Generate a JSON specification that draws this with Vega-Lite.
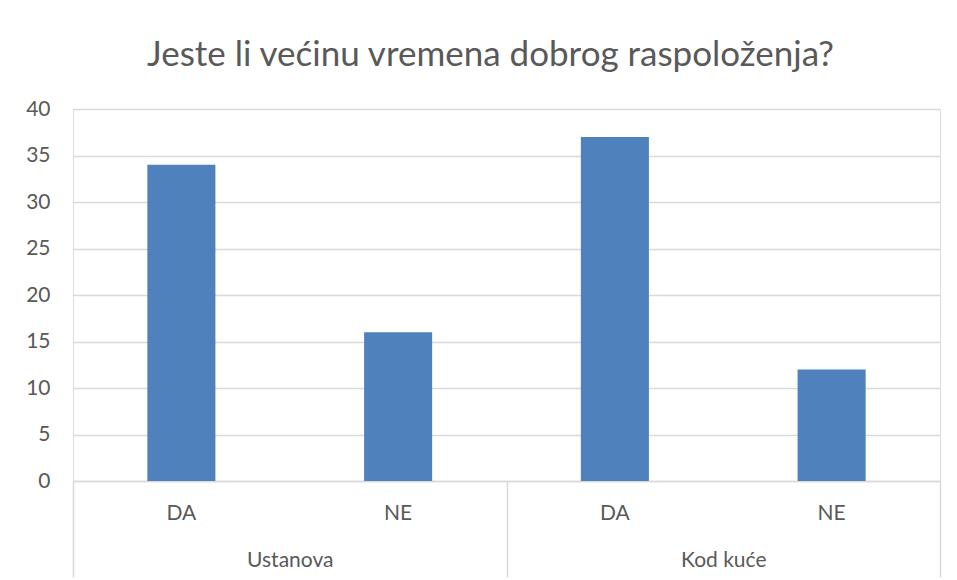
{
  "$schema": "https://vega.github.io/schema/vega-lite/v6.json",
  "width": 867,
  "height": 372,
  "autosize": {"type": "none"},
  "padding": {"left": 73, "top": 109, "right": 17, "bottom": 99},
  "background": "white",
  "title": {
    "text": "Jeste li većinu vremena dobrog raspoloženja?",
    "font": "Lato",
    "fontSize": 35,
    "fontWeight": "normal",
    "color": "#595959",
    "anchor": "middle",
    "frame": "group",
    "baseline": "alphabetic",
    "offset": -3,
    "dx": -16
  },
  "data": {
    "values": [
      {"grp": "Ustanova", "ans": "DA", "key": "Ustanova|DA", "v": 34},
      {"grp": "Ustanova", "ans": "NE", "key": "Ustanova|NE", "v": 16},
      {"grp": "Kod kuće", "ans": "DA", "key": "Kod kuće|DA", "v": 37},
      {"grp": "Kod kuće", "ans": "NE", "key": "Kod kuće|NE", "v": 12}
    ]
  },
  "layer": [
    {
      "mark": {"type": "bar", "color": "#4f81bd", "width": {"band": 0.314}},
      "encoding": {
        "x": {
          "field": "key",
          "type": "nominal",
          "sort": null,
          "scale": {"paddingInner": 0, "paddingOuter": 0},
          "axis": {
            "title": null,
            "orient": "bottom",
            "labelAngle": 0,
            "labelExpr": "split(datum.label, '|')[1]",
            "ticks": false,
            "domain": true,
            "domainColor": "#d9d9d9",
            "domainWidth": 1.5,
            "labelPadding": 21,
            "labelFont": "Lato",
            "labelFontSize": 21,
            "labelColor": "#595959"
          }
        },
        "y": {
          "field": "v",
          "type": "quantitative",
          "scale": {"domain": [0, 40]},
          "axis": {
            "title": null,
            "values": [0, 5, 10, 15, 20, 25, 30, 35, 40],
            "grid": true,
            "gridColor": "#d9d9d9",
            "gridWidth": 1.5,
            "domain": false,
            "ticks": false,
            "labelPadding": 23,
            "labelFont": "Lato",
            "labelFontSize": 21,
            "labelColor": "#595959"
          }
        }
      }
    },
    {
      "mark": {"type": "point", "opacity": 0},
      "encoding": {
        "x": {
          "field": "grp",
          "type": "nominal",
          "sort": ["Ustanova", "Kod kuće"],
          "scale": {"paddingInner": 0, "paddingOuter": 0},
          "axis": {
            "title": null,
            "orient": "bottom",
            "labelAngle": 0,
            "domain": false,
            "ticks": true,
            "tickBand": "extent",
            "tickSize": 96,
            "tickColor": "#d9d9d9",
            "tickWidth": 1.5,
            "labelPadding": -28,
            "labelFont": "Lato",
            "labelFontSize": 21,
            "labelColor": "#595959"
          }
        },
        "y": {"datum": 0, "type": "quantitative"}
      }
    }
  ],
  "resolve": {"scale": {"x": "independent"}, "axis": {"x": "independent"}}
}
